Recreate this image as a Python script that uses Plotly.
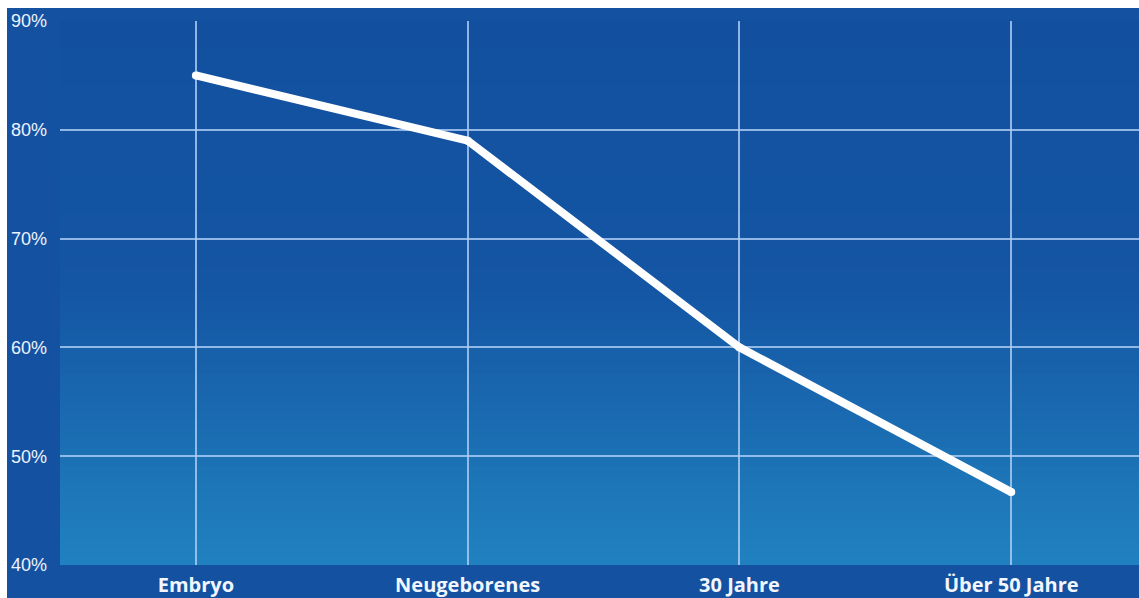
import plotly.graph_objects as go

categories = ["Embryo", "Neugeborenes", "30 Jahre", "Über 50 Jahre"]
values = [85, 79, 60, 46.7]
y_ticks = [40, 50, 60, 70, 80, 90]
y_tick_labels = ["40%", "50%", "60%", "70%", "80%", "90%"]

W, H = 1139, 598
ML, MR, MT, MB = 60, 0, 21, 33

fig = go.Figure()

fig.add_trace(go.Scatter(
    x=list(range(len(categories))), y=values, mode="lines+markers",
    line=dict(color="white", width=8),
    marker=dict(color="white", size=8, line=dict(width=0)),
    hoverinfo="skip", showlegend=False,
))

def lerp(c1, c2, t):
    return "rgb(%d,%d,%d)" % tuple(round(a + (b - a) * t) for a, b in zip(c1, c2))

shapes = []
plot_h = H - MT - MB
plot_w = W - ML - MR
# white strips (paper coords)
shapes.append(dict(type="rect", xref="paper", yref="paper", x0=-ML/plot_w - 0.01, x1=1.01,
                   y0=1 + (MT - 8) / plot_h, y1=1 + MT / plot_h + 0.02,
                   fillcolor="white", line=dict(width=0), layer="below"))
shapes.append(dict(type="rect", xref="paper", yref="paper", x0=-ML/plot_w - 0.01, x1=-(ML - 7)/plot_w,
                   y0=-MB/plot_h - 0.02, y1=1 + MT / plot_h + 0.02,
                   fillcolor="white", line=dict(width=0), layer="below"))
# gradient in plot area
top = (18, 80, 159)
mid = (20, 86, 164)
bot = (33, 130, 192)
N = 60
for i in range(N):
    f0 = i / N
    f1 = (i + 1) / N
    fc = (f0 + f1) / 2  # 0 bottom, 1 top
    if fc > 0.5:
        col = lerp(mid, top, (fc - 0.5) / 0.5)
    else:
        col = lerp(bot, mid, fc / 0.5)
    shapes.append(dict(type="rect", xref="paper", yref="paper", x0=0, x1=1.01, y0=f0, y1=f1 + 0.002,
                       fillcolor=col, line=dict(width=0), layer="below"))

fig.update_layout(
    width=W, height=H,
    margin=dict(l=ML, r=MR, t=MT, b=MB, pad=0),
    paper_bgcolor="#1452a1",
    plot_bgcolor="rgba(0,0,0,0)",
    shapes=shapes,
    xaxis=dict(
        range=[-0.5, 3.47],
        tickmode="array", tickvals=list(range(len(categories))), ticktext=categories,
        showgrid=True, gridcolor="rgba(175,208,245,0.8)", gridwidth=1.5,
        zeroline=False, showline=False, ticks="",
        tickfont=dict(family="Open Sans", size=20, color="#f2f6ff", weight="bold"),
        ticklabelstandoff=6,
    ),
    yaxis=dict(
        range=[40, 90],
        tickmode="array", tickvals=y_ticks, ticktext=y_tick_labels,
        showgrid=True, gridcolor="rgba(175,208,245,0.8)", gridwidth=1.5,
        zeroline=False, showline=False, ticks="",
        tickfont=dict(family="Liberation Sans", size=18, color="#eef3ff"),
        ticklabelstandoff=12,
    ),
)

fig.write_html("out.html")
